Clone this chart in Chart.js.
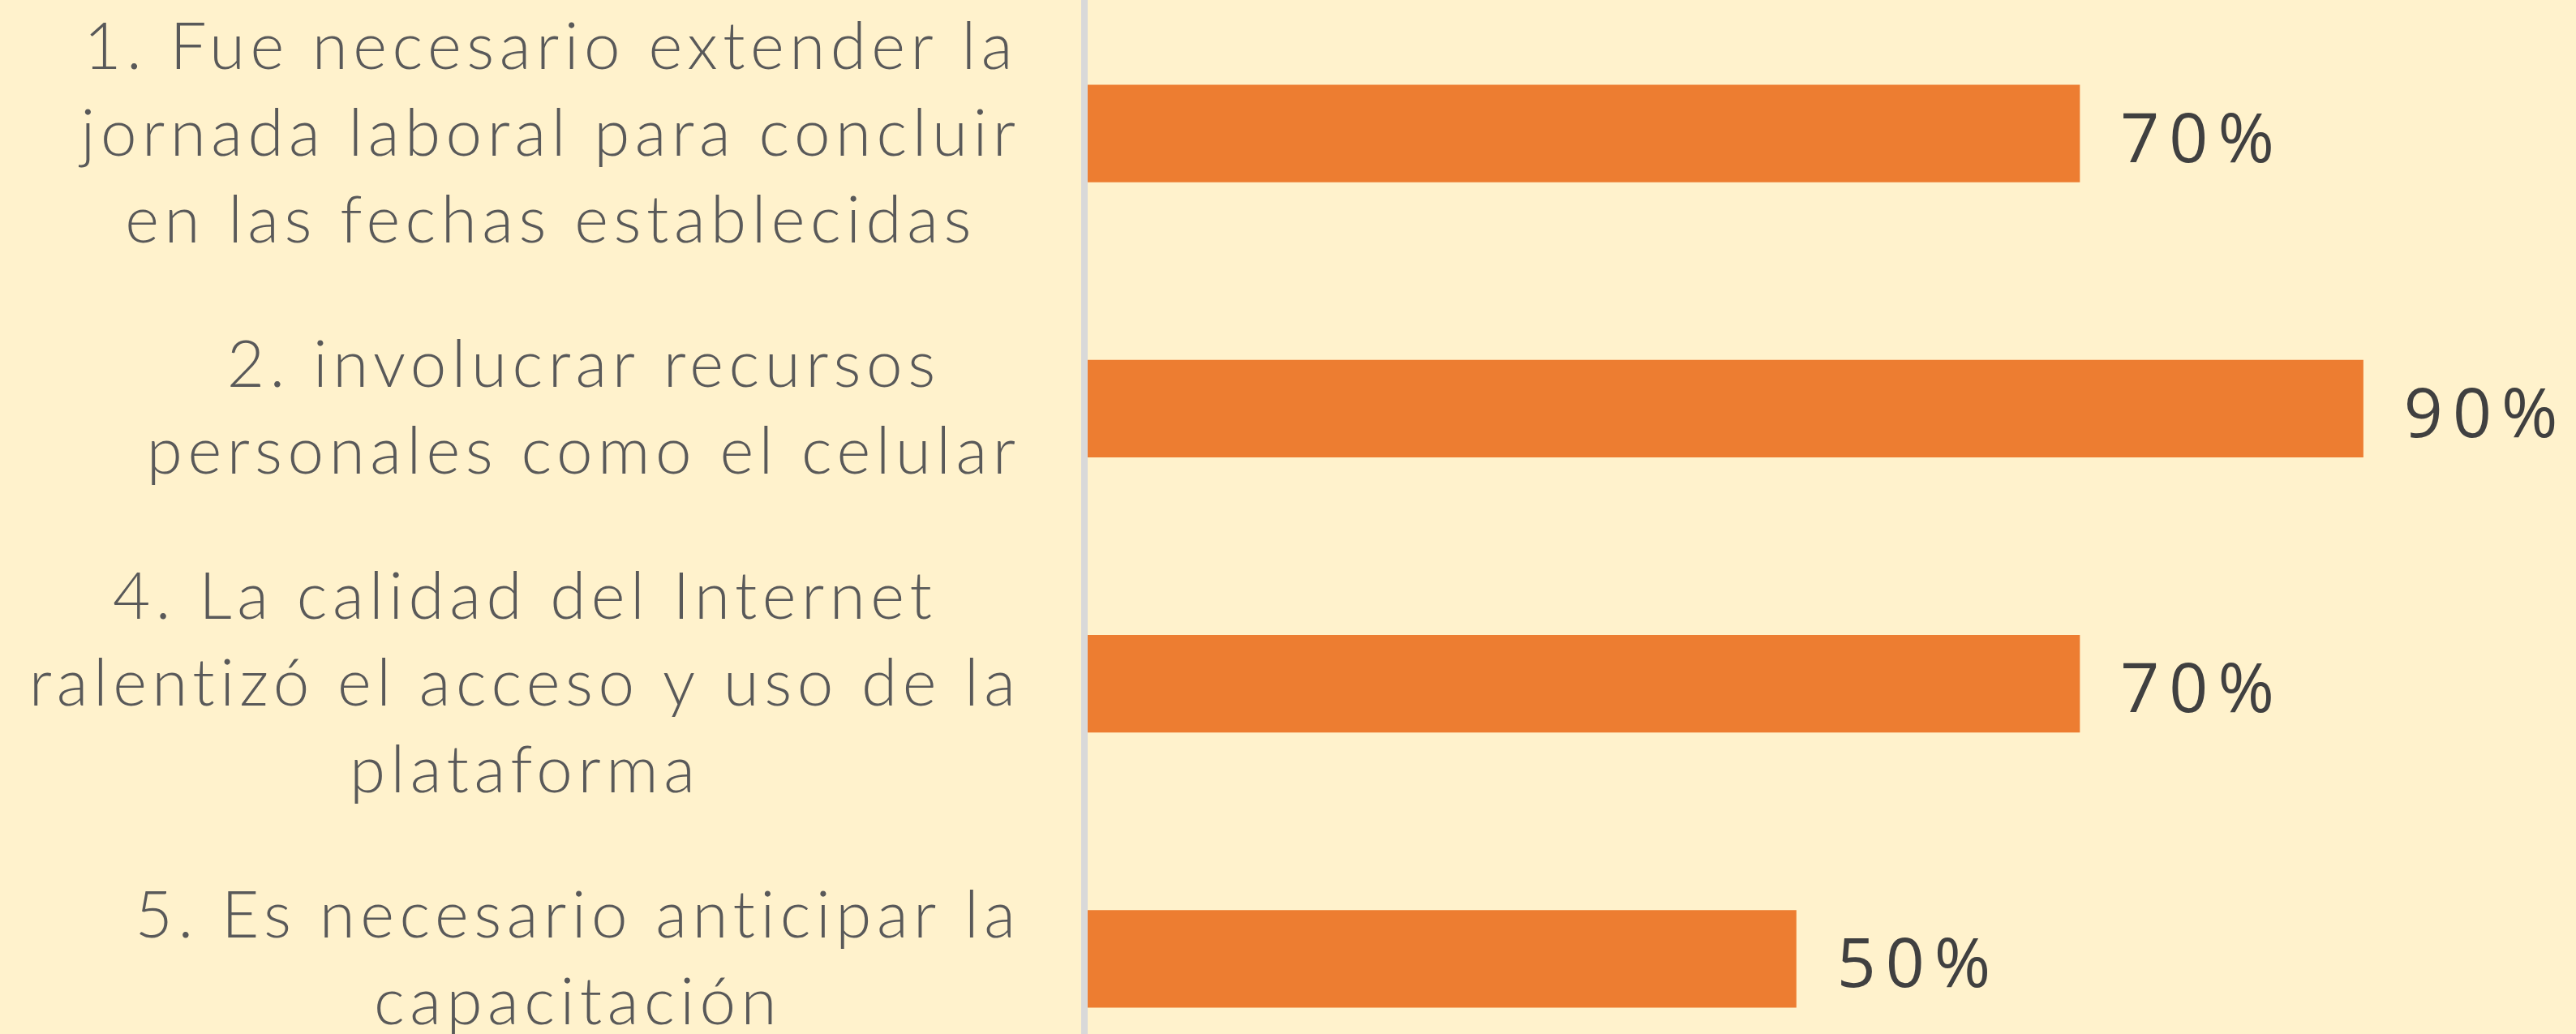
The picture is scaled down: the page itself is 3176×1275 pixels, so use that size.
<!DOCTYPE html>
<html lang="es">
<head>
<meta charset="utf-8">
<title>Dificultades</title>
<script src="https://cdn.jsdelivr.net/npm/chart.js@4.4.1/dist/chart.umd.min.js"></script>
<style>
    html, body {
        margin: 0;
        padding: 0;
        width: 3176px;
        height: 1275px;
        overflow: hidden;
        background: #FFF2CC;
    }
    #chartBox {
        position: absolute;
        left: 0;
        top: -5px;
        width: 3176px;
        height: 1357px;
    }
</style>
</head>
<body>
<div id="chartBox"><canvas id="barChart"></canvas></div>
<script>
// Categorías (cada una partida en líneas) y porcentajes
const categories = [
    ['1. Fue necesario extender la', 'jornada laboral para concluir', 'en las fechas establecidas'],
    ['2. involucrar recursos', 'personales como el celular'],
    ['4. La calidad del Internet', 'ralentizó el acceso y uso de la', 'plataforma'],
    ['5. Es necesario anticipar la', 'capacitación']
];
const values = [70, 90, 70, 50];

const BAR_COLOR = '#ED7D31';
const LABEL_FONT = '300 80px Lato, "Open Sans", sans-serif';
const LABEL_SPACING = 6.5;
const VALUE_FONT = '400 84px "Open Sans", sans-serif';

/**
 * Dibuja las etiquetas de categoría al estilo de Excel: el bloque se alinea
 * a la derecha junto al eje y cada línea se centra dentro del bloque.
 */
const categoryLabels = {
    id: 'categoryLabels',
    afterDraw(chart) {
        const ctx = chart.ctx;
        const yScale = chart.scales.y;
        const right = chart.chartArea.left - 89;
        const lineHeight = 107;
        ctx.save();
        ctx.font = LABEL_FONT;
        ctx.letterSpacing = LABEL_SPACING + 'px';
        ctx.fillStyle = '#595959';
        ctx.textAlign = 'center';
        ctx.textBaseline = 'alphabetic';
        categories.forEach((lines, i) => {
            const cy = yScale.getPixelForTick(i);
            // el espaciado añade un hueco al final de cada línea
            const maxW = Math.max(...lines.map(l => ctx.measureText(l).width)) - LABEL_SPACING;
            const cx = right - maxW / 2;
            lines.forEach((line, j) => {
                const y = cy + 27 + (j - (lines.length - 1) / 2) * lineHeight;
                ctx.fillText(line, cx + LABEL_SPACING / 2, y);
            });
        });
        ctx.restore();
    }
};

/**
 * Eje vertical gris y etiquetas de valor al final de cada barra.
 */
const axisAndValues = {
    id: 'axisAndValues',
    afterDatasetsDraw(chart) {
        const ctx = chart.ctx;
        const area = chart.chartArea;
        ctx.save();
        ctx.fillStyle = '#D9D9D9';
        ctx.fillRect(area.left - 8, area.top, 8, area.bottom - area.top);

        ctx.font = VALUE_FONT;
        ctx.letterSpacing = '12px';
        ctx.fillStyle = '#404040';
        ctx.textAlign = 'left';
        ctx.textBaseline = 'alphabetic';
        chart.getDatasetMeta(0).data.forEach((bar, i) => {
            ctx.fillText(values[i] + '%', bar.x + 50, bar.y + 35);
        });
        ctx.restore();
    }
};

function initializeChart() {
    const canvas = document.getElementById('barChart');
    if (!canvas) {
        return;
    }

    new Chart(canvas.getContext('2d'), {
        type: 'bar',
        data: {
            labels: categories,
            datasets: [{
                data: values,
                backgroundColor: BAR_COLOR,
                borderWidth: 0,
                barPercentage: 0.354,
                categoryPercentage: 1
            }]
        },
        options: {
            indexAxis: 'y',
            responsive: true,
            maintainAspectRatio: false,
            animation: false,
            layout: { padding: 0 },
            plugins: {
                legend: { display: false },
                title: { display: false },
                tooltip: { enabled: false }
            },
            scales: {
                x: {
                    display: false,
                    min: 0,
                    max: 105
                },
                y: {
                    grid: { display: false },
                    border: { display: false },
                    ticks: { display: false },
                    // deja sitio a la izquierda para las etiquetas propias
                    afterFit(scale) {
                        scale.width = 1341;
                    }
                }
            }
        },
        plugins: [categoryLabels, axisAndValues]
    });
}

document.addEventListener('DOMContentLoaded', initializeChart);
</script>
</body>
</html>
